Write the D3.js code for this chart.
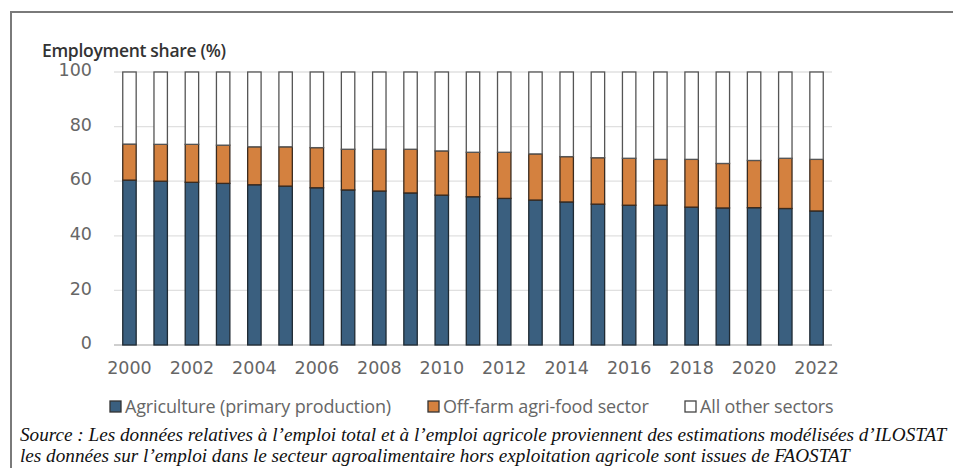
<!DOCTYPE html>
<html>
<head>
<meta charset="utf-8">
<script src="https://cdn.jsdelivr.net/npm/d3@7"></script>
<style>
  body { margin: 0; background: #fff; }
  svg { display: block; }
</style>
</head>
<body>
<svg></svg>
<script>
// share of employment by sector
let years = d3.range(2000, 2023).map(String)
let agriculture = [60.4, 60.0, 59.6, 59.2, 58.7, 58.2, 57.6, 56.8, 56.4, 55.7, 54.9, 54.3,
                   53.7, 53.1, 52.4, 51.6, 51.2, 51.2, 50.5, 50.2, 50.3, 50.0, 49.1]
let offFarm = [13.2, 13.5, 13.9, 14.0, 13.9, 14.4, 14.7, 14.9, 15.3, 16.0, 16.2, 16.3,
               16.9, 16.9, 16.6, 17.0, 17.2, 16.8, 17.5, 16.3, 17.3, 18.4, 18.9]
let yTicks = [0, 20, 40, 60, 80, 100]
let xTickYears = years.filter((y, i) => i % 2 == 0)
let seriesNames = ["Agriculture (primary production)", "Off-farm agri-food sector", "All other sectors"]

let width = 953
let height = 468
let colors = ["#3a5f7f", "#d4813f", "#ffffff"]
let outlines = ["#1f2a33", "#3a2a1e", "#555"]

let svg = d3.select("svg").attr("width", width).attr("height", height)

// frame on the left and top
svg.append("path")
   .attr("d", "M11,468 V12 H953")
   .attr("fill", "none")
   .attr("stroke", "#7a7a7a")
   .attr("stroke-width", 2)

let xScale = d3.scaleBand().domain(years).range([114, 832]).paddingInner(0.57).paddingOuter(0.28)
let yScale = d3.scaleLinear().domain([0, 100]).range([345, 72])

// gridlines
svg.append("g")
   .selectAll("line")
   .data(yTicks)
   .enter()
   .append("line")
   .attr("x1", 114)
   .attr("x2", 832)
   .attr("y1", d => yScale(d))
   .attr("y2", d => yScale(d))
   .attr("stroke", d => d == 0 ? "#bfbfbf" : "#e0e0e0")
   .attr("stroke-width", 1.3)

// y axis labels
let yAxis = d3.axisLeft(yScale).tickValues(yTicks).tickSize(0).tickPadding(0)
let yg = svg.append("g").attr("transform", "translate(92,-2)").call(yAxis)
yg.select(".domain").remove()
yg.selectAll("text")
  .attr("font-family", "DejaVu Sans")
  .attr("font-size", 17.5)
  .attr("fill", "#666")

// x axis labels
let xAxis = d3.axisBottom(xScale).tickValues(xTickYears).tickSize(0).tickPadding(0)
let xg = svg.append("g").attr("transform", "translate(0,362)").call(xAxis)
xg.select(".domain").remove()
xg.selectAll("text")
  .attr("font-family", "DejaVu Sans")
  .attr("font-size", 17.5)
  .attr("fill", "#666")

svg.append("text")
   .attr("x", 42)
   .attr("y", 57)
   .attr("font-family", "Open Sans")
   .attr("font-size", 17.5)
   .attr("font-weight", 600)
   .attr("letter-spacing", -0.3)
   .attr("fill", "#333")
   .text("Employment share (%)")

// stack the three segments
let rows = years.map((y, i) => ({
  year: y,
  agri: agriculture[i],
  off: offFarm[i],
  other: 100 - agriculture[i] - offFarm[i]
}))
let stack = d3.stack().keys(["agri", "off", "other"])(rows)

svg.append("g")
   .selectAll("g")
   .data(stack)
   .enter()
   .append("g")
   .attr("fill", (d, i) => colors[i])
   .attr("stroke", (d, i) => outlines[i])
   .attr("stroke-width", 1.3)
   .selectAll("rect")
   .data(d => d)
   .enter()
   .append("rect")
   .attr("x", d => xScale(d.data.year))
   .attr("width", xScale.bandwidth())
   .attr("y", d => yScale(d[1]))
   .attr("height", d => yScale(d[0]) - yScale(d[1]))

// legend
let legendX = [110, 428, 685]
let legend = svg.append("g")
                .selectAll("g")
                .data(seriesNames)
                .enter()
                .append("g")
                .attr("transform", (d, i) => "translate(" + legendX[i] + ",401)")
legend.append("rect")
      .attr("width", 11)
      .attr("height", 11)
      .attr("fill", (d, i) => colors[i])
      .attr("stroke", (d, i) => i == 2 ? "#444" : "#333")
      .attr("stroke-width", 1.3)
legend.append("text")
      .attr("x", 15)
      .attr("y", 11.5)
      .attr("font-family", "Open Sans")
      .attr("font-size", 18)
      .attr("letter-spacing", -0.15)
      .attr("fill", "#666")
      .text(d => d)

// source note
let source = ["Source : Les données relatives à l’emploi total et à l’emploi agricole proviennent des estimations modélisées d’ILOSTAT",
              "les données sur l’emploi dans le secteur agroalimentaire hors exploitation agricole sont issues de FAOSTAT"]
svg.append("g")
   .selectAll("text")
   .data(source)
   .enter()
   .append("text")
   .attr("x", 20)
   .attr("y", (d, i) => 441 + i * 21)
   .attr("font-family", "Liberation Serif")
   .attr("font-style", "italic")
   .attr("font-size", 19.2)
   .attr("fill", "#111")
   .text(d => d)
</script>
</body>
</html>
